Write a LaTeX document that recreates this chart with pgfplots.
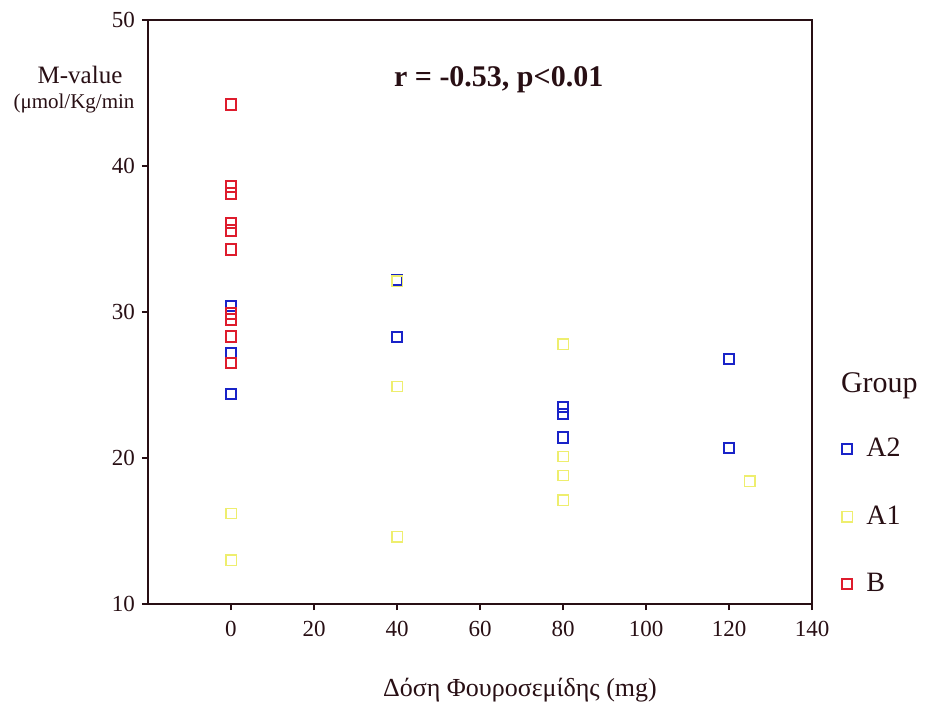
\documentclass[border=0pt]{standalone}
\usepackage{fontspec}
\setmainfont{Liberation Serif}
\usepackage{pgfplots}
\pgfplotsset{compat=1.18}
\definecolor{cred}{RGB}{222,28,45}
\definecolor{cblue}{RGB}{25,35,200}
\definecolor{cyel}{RGB}{238,238,110}
\definecolor{caxis}{RGB}{40,15,20}
\begin{document}
\begin{tikzpicture}
\begin{axis}[
  name=ax, at={(0,0)}, anchor=south west,
  scale only axis, width=332pt, height=292pt,
  xmin=-20, xmax=140, ymin=10, ymax=50,
  xtick={0,20,...,140}, ytick={10,20,...,50},
  xtick pos=bottom, ytick pos=left, tick align=outside,
  major tick length=3pt,
  axis line style={caxis, line width=0.8pt},
  tick style={caxis, line width=0.6pt},
  every tick label/.append style={font=\fontsize{11.5}{12}\selectfont, text=caxis},
  /pgf/number format/assume math mode=true,
  xticklabel style={yshift=-2pt},
  legend style={draw=none, fill=none, at={(1.035,0.298)}, anchor=north west,
    font=\fontsize{14}{15}\selectfont, row sep=19pt, text=caxis,
    legend cell align=left},
]
\addplot[only marks, mark=square, mark size=2.6pt, mark options={draw=cblue, line width=1pt}] coordinates {
 (0,30.4) (0,27.2) (0,24.4) (40,32.2) (40,28.3) (80,23.5) (80,23.0) (80,21.4) (120,26.8) (120,20.7)};
\addlegendentry{\hspace{5pt}A2}
\addplot[only marks, mark=square, mark size=2.6pt, mark options={draw=cyel, line width=0.7pt}] coordinates {
 (0,16.2) (0,13.0) (40,32.1) (40,24.9) (40,14.6) (80,27.8) (80,20.1) (80,18.8) (80,17.1) (125,18.4)};
\addlegendentry{\hspace{5pt}A1}
\addplot[only marks, mark=square, mark size=2.7pt, mark options={draw=cred, line width=1pt}] coordinates {
 (0,44.2) (0,38.6) (0,38.1) (0,36.1) (0,35.6) (0,34.3) (0,29.9) (0,29.5) (0,28.3) (0,26.5)};
\addlegendentry{\hspace{5pt}B}
\node[font=\bfseries\fontsize{15}{16}\selectfont, text=caxis] at (axis cs:64.5,45.9) {r = -0.53, p<0.01};
\end{axis}
\node[font=\fontsize{12.5}{13}\selectfont, text=caxis] at (-34pt,264.5pt) {M-value};
\node[font=\fontsize{10.5}{11}\selectfont, text=caxis] at (-37pt,250.5pt) {(μmol/Kg/min};
\node[font=\fontsize{15}{16}\selectfont, text=caxis, anchor=west] at (343pt,109pt) {Group};
\node[font=\fontsize{13}{14}\selectfont, text=caxis] at (186pt,-43pt) {Δόση Φουροσεμίδης (mg)};
\path[use as bounding box] (-74pt,-54pt) rectangle (391.5pt,302pt);
\end{tikzpicture}
\end{document}
